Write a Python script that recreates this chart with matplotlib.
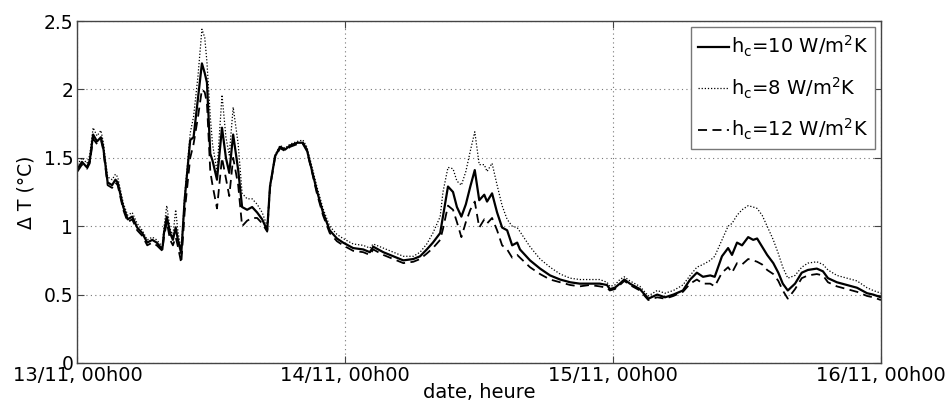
import matplotlib

matplotlib.use("Agg")
import matplotlib.pyplot as plt

# hours since 13/11 00h00
hours = [
    0.0, 0.4, 0.85, 1.1, 1.4, 1.75, 2.1, 2.3, 2.7, 3.1, 3.4, 3.6, 4.1, 4.5, 4.9,
    5.35, 5.8, 6.25, 6.7, 7.1, 7.6, 7.75, 8.0, 8.3, 8.55, 8.8, 9.0, 9.3, 9.6,
    10.1, 10.4, 10.8, 11.15, 11.4, 11.6, 11.9, 12.1, 12.5, 12.95, 13.3, 13.6,
    13.95, 14.4, 14.75, 15.2, 15.65, 16.1, 16.55, 17.0, 17.25, 17.7, 18.15, 18.6,
    19.05, 19.7, 20.2, 20.55, 21.0, 21.45, 22.0, 22.6, 23.25, 23.8, 24.7, 25.6,
    26.2, 26.5, 27.4, 28.3, 29.2, 30.1, 30.7, 31.3, 31.85, 32.5, 32.75, 33.2,
    33.65, 34.0, 34.4, 34.8, 35.2, 35.6, 36.0, 36.45, 36.7, 37.15, 37.6, 38.05,
    38.5, 38.95, 39.4, 39.65, 40.55, 41.45, 42.35, 43.25, 44.15, 45.0, 45.9,
    46.8, 47.45, 47.7, 48.15, 48.6, 49.0, 49.5, 50.4, 51.15, 51.95, 52.65, 53.4,
    54.25, 54.9, 55.5, 56.05, 56.7, 57.1, 57.75, 58.3, 58.65, 59.1, 59.55, 60.1,
    60.55, 60.9, 61.35, 61.8, 62.35, 62.8, 63.2, 63.65, 64.3, 64.9, 65.45, 66.25,
    66.8, 67.25, 68.05, 68.95, 69.85, 70.75, 71.3, 72.0,
]

dT_hc10 = [
    1.42, 1.47, 1.43, 1.48, 1.67, 1.62, 1.65, 1.58, 1.32, 1.30, 1.34, 1.32, 1.14,
    1.05, 1.07, 0.99, 0.95, 0.88, 0.90, 0.88, 0.83, 0.95, 1.07, 0.95, 0.90, 0.99,
    0.90, 0.80, 1.19, 1.63, 1.65, 1.94, 2.19, 2.12, 2.05, 1.53, 1.48, 1.34, 1.72,
    1.50, 1.39, 1.67, 1.41, 1.14, 1.12, 1.14, 1.10, 1.05, 0.97, 1.29, 1.51, 1.58,
    1.56, 1.59, 1.61, 1.61, 1.56, 1.41, 1.26, 1.10, 0.97, 0.91, 0.88, 0.84, 0.83,
    0.81, 0.85, 0.81, 0.78, 0.75, 0.76, 0.78, 0.83, 0.88, 0.95, 1.07, 1.29, 1.25,
    1.14, 1.07, 1.16, 1.29, 1.41, 1.19, 1.23, 1.18, 1.24, 1.10, 0.99, 0.97, 0.86,
    0.88, 0.83, 0.75, 0.69, 0.64, 0.61, 0.59, 0.58, 0.58, 0.58, 0.57, 0.54, 0.55,
    0.58, 0.61, 0.58, 0.54, 0.47, 0.50, 0.48, 0.50, 0.53, 0.61, 0.66, 0.63, 0.64,
    0.63, 0.78, 0.84, 0.79, 0.88, 0.86, 0.92, 0.90, 0.91, 0.85, 0.79, 0.73, 0.66,
    0.58, 0.53, 0.58, 0.66, 0.68, 0.69, 0.67, 0.62, 0.59, 0.57, 0.55, 0.51, 0.50,
    0.48,
]

dT_hc8 = [
    1.45, 1.50, 1.46, 1.52, 1.72, 1.66, 1.70, 1.62, 1.36, 1.34, 1.38, 1.36, 1.17,
    1.08, 1.10, 1.02, 0.97, 0.90, 0.92, 0.90, 0.85, 0.99, 1.15, 0.98, 0.93, 1.12,
    0.96, 0.82, 1.22, 1.68, 1.80, 2.10, 2.44, 2.38, 2.20, 1.80, 1.60, 1.40, 1.96,
    1.65, 1.52, 1.87, 1.60, 1.24, 1.20, 1.20, 1.16, 1.10, 1.00, 1.30, 1.52, 1.59,
    1.57, 1.60, 1.62, 1.63, 1.58, 1.44, 1.29, 1.13, 1.00, 0.94, 0.91, 0.87, 0.86,
    0.84, 0.87, 0.84, 0.81, 0.78, 0.78, 0.81, 0.87, 0.95, 1.07, 1.25, 1.43, 1.42,
    1.33, 1.30, 1.40, 1.55, 1.69, 1.45, 1.45, 1.40, 1.46, 1.30, 1.15, 1.05, 1.00,
    0.99, 0.96, 0.85, 0.76, 0.70, 0.65, 0.62, 0.61, 0.61, 0.61, 0.59, 0.56, 0.57,
    0.61, 0.63, 0.60, 0.56, 0.49, 0.53, 0.51, 0.53, 0.57, 0.64, 0.70, 0.72, 0.75,
    0.78, 0.90, 1.00, 1.02, 1.08, 1.12, 1.15, 1.14, 1.13, 1.08, 1.00, 0.90, 0.80,
    0.70, 0.62, 0.64, 0.70, 0.73, 0.74, 0.72, 0.68, 0.64, 0.62, 0.60, 0.55, 0.53,
    0.51,
]

dT_hc12 = [
    1.40, 1.45, 1.42, 1.46, 1.64, 1.60, 1.63, 1.56, 1.30, 1.28, 1.32, 1.30, 1.12,
    1.03, 1.05, 0.97, 0.93, 0.86, 0.88, 0.86, 0.82, 0.92, 1.03, 0.90, 0.86, 0.92,
    0.85, 0.73, 1.10, 1.50, 1.60, 1.80, 2.00, 1.98, 1.90, 1.40, 1.30, 1.13, 1.50,
    1.35, 1.22, 1.50, 1.30, 1.00, 1.04, 1.06, 1.06, 1.02, 0.96, 1.28, 1.50, 1.57,
    1.55, 1.58, 1.60, 1.60, 1.55, 1.40, 1.24, 1.08, 0.95, 0.89, 0.86, 0.82, 0.81,
    0.79, 0.83, 0.79, 0.76, 0.73, 0.74, 0.76, 0.80, 0.84, 0.90, 0.98, 1.15, 1.12,
    1.03, 0.92, 1.03, 1.12, 1.18, 0.99, 1.05, 1.02, 1.06, 0.97, 0.86, 0.83, 0.77,
    0.79, 0.77, 0.70, 0.65, 0.61, 0.59, 0.57, 0.56, 0.57, 0.56, 0.55, 0.53, 0.54,
    0.57, 0.60, 0.57, 0.53, 0.46, 0.48, 0.47, 0.49, 0.52, 0.58, 0.61, 0.58, 0.58,
    0.56, 0.66, 0.70, 0.66, 0.73, 0.72, 0.76, 0.75, 0.74, 0.72, 0.68, 0.65, 0.60,
    0.53, 0.47, 0.54, 0.62, 0.64, 0.65, 0.64, 0.59, 0.56, 0.54, 0.52, 0.49, 0.48,
    0.46,
]

day_ticks = [0, 24, 48, 72]
day_labels = ["13/11, 00h00", "14/11, 00h00", "15/11, 00h00", "16/11, 00h00"]
y_ticks = [0, 0.5, 1, 1.5, 2, 2.5]
y_labels = ["0", "0.5", "1", "1.5", "2", "2.5"]

plt.rcParams["font.family"] = "DejaVu Sans"
plt.rcParams["mathtext.default"] = "regular"

fig = plt.figure(figsize=(9.52, 4.12), dpi=100)
ax = fig.add_axes([0.0814, 0.119, 0.8440, 0.830])

ax.plot(hours, dT_hc10, color="black", linewidth=1.6, linestyle="-",
        label=r"h$_c$=10 W/m$^2$K")
ax.plot(hours, dT_hc8, color="black", linewidth=0.9, linestyle=(0, (1, 1.5)),
        label=r"h$_c$=8 W/m$^2$K")
ax.plot(hours, dT_hc12, color="black", linewidth=1.3, linestyle=(0, (5, 3)),
        label=r"h$_c$=12 W/m$^2$K")

ax.set_xlim(0, 72)
ax.set_ylim(0, 2.5)
ax.set_xticks(day_ticks)
ax.set_xticklabels(day_labels, fontsize=14)
ax.set_yticks(y_ticks)
ax.set_yticklabels(y_labels, fontsize=13.5)
ax.grid(True, color="#777777", linestyle=(0, (1, 3)), linewidth=0.8)
ax.tick_params(direction="in", length=5, top=True, right=True,
               color="#444444", pad=3)
ax.tick_params(axis="x", pad=2)
for sp in ax.spines.values():
    sp.set_color("#444444")
    sp.set_linewidth(1.0)

ax.set_xlabel("date, heure", fontsize=14, labelpad=-1)
ax.set_ylabel("\u0394 T (\u00b0C)", fontsize=13.5, labelpad=6)

leg = ax.legend(loc="upper right", fontsize=14, handlelength=1.6,
                handletextpad=0.1, borderpad=0.35, labelspacing=0.85,
                fancybox=False, framealpha=1, borderaxespad=0.3)
leg.get_frame().set_edgecolor("#777777")
leg.get_frame().set_linewidth(1.0)

fig.savefig("out.png", dpi=100)
